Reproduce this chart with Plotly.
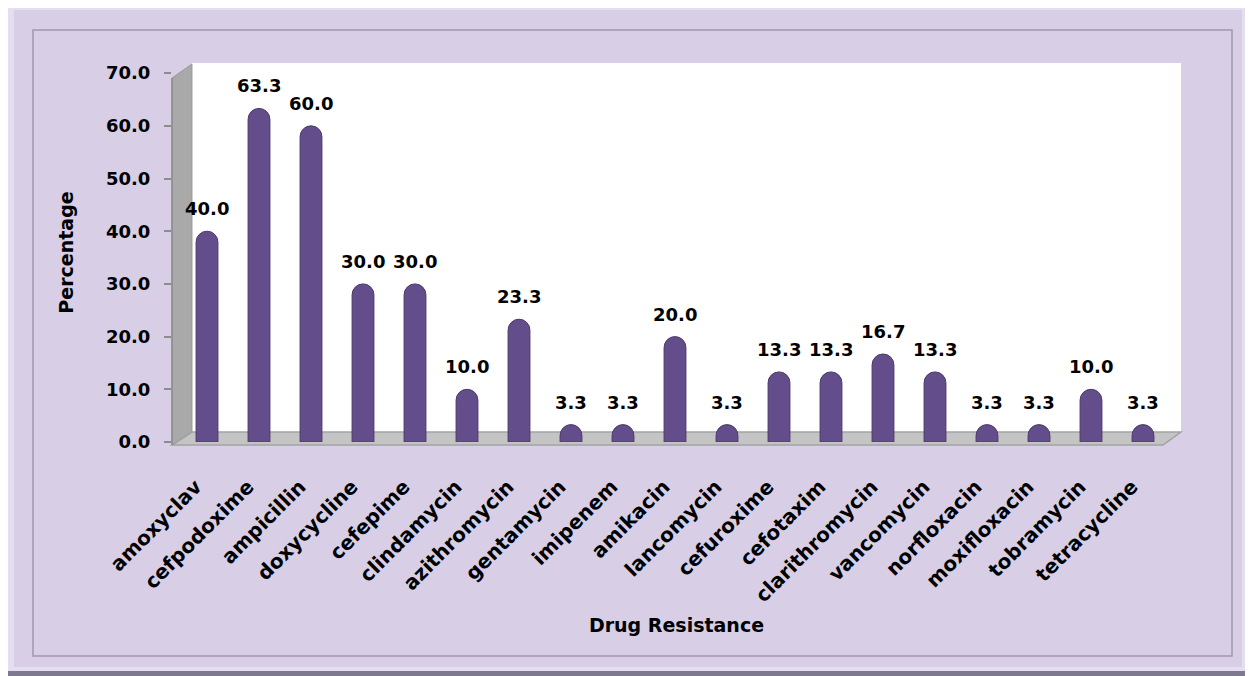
import plotly.graph_objects as go

drugs = ["amoxyclav", "cefpodoxime", "ampicillin", "doxycycline", "cefepime",
         "clindamycin", "azithromycin", "gentamycin", "imipenem", "amikacin",
         "lancomycin", "cefuroxime", "cefotaxim", "clarithromycin", "vancomycin",
         "norfloxacin", "moxifloxacin", "tobramycin", "tetracycline"]
resistance = [40.0, 63.3, 60.0, 30.0, 30.0, 10.0, 23.3, 3.3, 3.3, 20.0,
              3.3, 13.3, 13.3, 16.7, 13.3, 3.3, 3.3, 10.0, 3.3]
y_ticks = [0, 10, 20, 30, 40, 50, 60, 70]
y_tick_labels = ["0.0", "10.0", "20.0", "30.0", "40.0", "50.0", "60.0", "70.0"]
labels = [f"{v:.1f}" for v in resistance]

# the page body has an 8px margin, so the figure is drawn 8px in and 8px down
OFF = 8
W, H = 1253 - OFF, 676 - OFF
L, R, T, B = 172, 1181, 63, 442   # plot area in page pixels
FONT = "DejaVu Sans"
n = len(drugs)
step = (1143 - 207) / (n - 1)
x_lo = (L - 207) / step
x_hi = (R - 207) / step
y_hi = (B - T) / 5.27


def px(x, y):
    return (x - L) / (R - L), (B - y) / (B - T)


def poly(pts, fill, line=None, lw=0):
    path = ""
    for i, (x, y) in enumerate(pts):
        a, b = px(x, y)
        path += ("M" if i == 0 else "L") + f"{a:.5f},{b:.5f} "
    path += "Z"
    return dict(type="path", xref="paper", yref="paper", path=path,
                fillcolor=fill, line=dict(color=line or fill, width=lw),
                layer="below")


def rect(x0, y0, x1, y1, fill, line=None, lw=0):
    return poly([(x0, y0), (x1, y0), (x1, y1), (x0, y1)], fill, line, lw)


shapes = [
    rect(8, 4, 1253, 676, "#7F7990"),
    rect(8, 4, 1246, 671, "#E4DEF0"),
    rect(14, 10, 1242, 667, "#D8CFE6"),
    rect(33, 30, 1232, 656, "#D8CFE6", "#9F98AE", 1.5),
    rect(192, 63, 1181, 432, "#FFFFFF"),
    poly([(172, 78), (192, 64), (192, 432), (172, 445)], "#A9A9A9", "#9A9A9A", 1),
    poly([(172, 445), (192, 432), (1181, 432), (1163, 445)], "#C4C4C4", "#A2A2A2", 1.5),
]
shapes.append(dict(type="line", xref="paper", yref="paper",
                   x0=0, x1=0, y0=px(0, 445)[1], y1=px(0, 78)[1],
                   line=dict(color="#8C8C8C", width=1.5), layer="below"))

fig = go.Figure()
fig.add_trace(go.Bar(
    x=list(range(n)), y=resistance, width=0.42,
    marker=dict(color="#634E8B", line=dict(color="#4A3A6A", width=1),
                cornerradius=11),
    hoverinfo="skip",
))

annotations = []
for i, (v, t) in enumerate(zip(resistance, labels)):
    annotations.append(dict(x=i, y=v, xref="x", yref="y", text=f"<b>{t}</b>",
                            showarrow=False, yanchor="bottom", yshift=10,
                            font=dict(family=FONT, size=18, color="#000000")))

fig.update_layout(
    width=W, height=H,
    margin=dict(l=L - OFF, r=1253 - R, t=T - OFF, b=676 - B, pad=0),
    paper_bgcolor="#FFFFFF", plot_bgcolor="rgba(0,0,0,0)",
    showlegend=False, shapes=shapes, annotations=annotations,
    xaxis=dict(range=[x_lo, x_hi], tickmode="array", tickvals=list(range(n)),
               ticktext=[f"<b>{d}</b>" for d in drugs], tickangle=-45,
               showgrid=False, zeroline=False, showline=False, ticks="",
               tickfont=dict(family=FONT, size=20, color="#000000"),
               ticklabelshift=-11, ticklabelstandoff=28,
               title=dict(text="<b>Drug Resistance</b>", standoff=12,
                          font=dict(family=FONT, size=19, color="#000000"))),
    yaxis=dict(range=[0, y_hi], tickmode="array", tickvals=y_ticks,
               ticktext=[f"<b>{t}</b>" for t in y_tick_labels],
               showgrid=False, zeroline=False, showline=False,
               ticks="outside", ticklen=7, tickcolor="#8C8C8C", tickwidth=1.5,
               ticklabelstandoff=10,
               tickfont=dict(family=FONT, size=18, color="#000000"),
               title=dict(text="<b>Percentage</b>", standoff=27,
                          font=dict(family=FONT, size=19, color="#000000"))),
)

fig.write_html("out.html")
